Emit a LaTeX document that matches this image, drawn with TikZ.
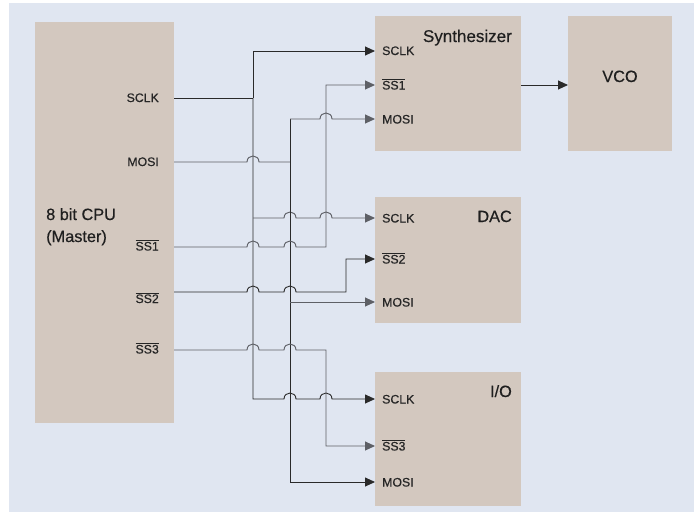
\documentclass[tikz,border=0pt]{standalone}
\usepackage{fontspec}
\setmainfont{Liberation Sans}
\newfontfamily\medfont{Liberation Sans}[FakeBold=0.45]
\usetikzlibrary{arrows.meta}
\definecolor{bgblue}{HTML}{E0E6F1}
\definecolor{boxtan}{HTML}{D3C8BF}
\definecolor{wdark}{HTML}{2A2A2A}
\definecolor{wgray}{HTML}{5E6066}
\newcommand\hop[2]{-- ({#1-6},#2) .. controls ({#1-6},{#2-8}) and ({#1+6},{#2-8}) .. ({#1+6},#2)}
\newcommand\ssbar[1]{$\overline{\mbox{#1}}$}
\tikzset{
  box/.style={fill=boxtan, draw=none, inner sep=0pt, outer sep=0pt},
  wire/.style={line width=0.9pt, wdark},
  wireg/.style={line width=0.95pt, wgray},
  arr/.style={-{Triangle[length=10pt,width=9pt]}},
  pinlab/.style={font=\medfont\fontsize{12.3}{15}\selectfont, text=black!85, inner sep=0pt},
  title/.style={font=\medfont\fontsize{16.3}{20}\selectfont, text=black!88, inner sep=0pt},
}
\begin{document}
\begin{tikzpicture}[x=1pt, y=-1pt]
\useasboundingbox (0,0) rectangle (694,512);
\fill[white] (0,0) rectangle (694,512);
\fill[bgblue] (9,3) rectangle (694,512);

% boxes
\node[box, minimum width=139pt, minimum height=401pt] (cpu) at (104.5,222.5) {};
\node[box, minimum width=146pt, minimum height=135pt] (syn) at (448,83.5) {};
\node[box, minimum width=104pt, minimum height=135pt] (vco) at (620,83.5) {};
\node[box, minimum width=146pt, minimum height=126pt] (dac) at (448,260) {};
\node[box, minimum width=146pt, minimum height=134pt] (io) at (448,439) {};

% titles
\node[title, anchor=base west] (cputitle1) at (46,220) {8 bit CPU};
\node[title, anchor=base west] (cputitle2) at (46,242) {(Master)};
\node[title, anchor=base east, font=\medfont\fontsize{17}{20}\selectfont] (syntitle) at (512,42) {Synthesizer};
\node[title, anchor=base] (vcotitle) at (620,82) {VCO};
\node[title, anchor=base east] (dactitle) at (512,222) {DAC};
\node[title, anchor=base east] (iotitle) at (512,397) {I/O};

% CPU pin labels
\node[pinlab, anchor=base east] (lcsclk) at (159,102) {SCLK};
\node[pinlab, anchor=base east] (lcmosi) at (159,166) {MOSI};
\node[pinlab, anchor=base east] (lcss1) at (159,250.5) {\ssbar{SS1}};
\node[pinlab, anchor=base east] (lcss2) at (159,303) {\ssbar{SS2}};
\node[pinlab, anchor=base east] (lcss3) at (159,353.5) {\ssbar{SS3}};

% device pin labels
\node[pinlab, anchor=base west] (lssclk) at (382,55) {SCLK};
\node[pinlab, anchor=base west] (lsss1) at (382,89.5) {\ssbar{SS1}};
\node[pinlab, anchor=base west] (lsmosi) at (382,123.5) {MOSI};
\node[pinlab, anchor=base west] (ldsclk) at (382,222.5) {SCLK};
\node[pinlab, anchor=base west] (ldss2) at (382,263.5) {\ssbar{SS2}};
\node[pinlab, anchor=base west] (ldmosi) at (382,306.5) {MOSI};
\node[pinlab, anchor=base west] (lisclk) at (382,403.5) {SCLK};
\node[pinlab, anchor=base west] (liss3) at (382,450.5) {\ssbar{SS3}};
\node[pinlab, anchor=base west] (limosi) at (382,486.5) {MOSI};

% pin coordinates
\coordinate (cSCLK) at (174,98);
\coordinate (cMOSI) at (174,162);
\coordinate (cSS1) at (174,247);
\coordinate (cSS2) at (174,292);
\coordinate (cSS3) at (174,350);
\coordinate (sSCLK) at (375,51);
\coordinate (sSS1) at (375,85);
\coordinate (sMOSI) at (375,119);
\coordinate (dSCLK) at (375,218);
\coordinate (dSS2) at (375,259);
\coordinate (dMOSI) at (375,302);
\coordinate (iSCLK) at (375,399);
\coordinate (iSS3) at (375,446);
\coordinate (iMOSI) at (375,482);
\coordinate (sOut) at (521,85);
\coordinate (vIn) at (568,85);

% SCLK bus
\draw[wire] (cSCLK) -- (253,98);
\draw[wire, arr] (253,98) -- (253,51) -- (sSCLK);
\draw[wire, arr] (253,98) -- (253,399) \hop{290}{399} \hop{326}{399} -- (iSCLK);
\draw[wireg, arr] (253,218) \hop{290}{218} \hop{326}{218} -- (dSCLK);

% MOSI bus
\draw[wireg] (cMOSI) \hop{253}{162} -- (290,162);
\draw[wire] (290,119) -- (290,482);
\draw[wireg, arr] (290,119) \hop{326}{119} -- (sMOSI);
\draw[wireg, arr] (290,302) -- (dMOSI);
\draw[wire, arr] (290,482) -- (iMOSI);

% slave selects
\draw[wireg, arr] (cSS1) \hop{253}{247} \hop{290}{247} -- (326,247) -- (326,85) -- (sSS1);
\draw[wire, arr] (cSS2) \hop{253}{292} \hop{290}{292} -- (346,292) -- (346,259) -- (dSS2);
\draw[wireg, arr] (cSS3) \hop{253}{350} \hop{290}{350} -- (326,350) -- (326,446) -- (iSS3);

% synthesizer to VCO
\draw[wire, arr] (sOut) -- (vIn);
\end{tikzpicture}
\end{document}
